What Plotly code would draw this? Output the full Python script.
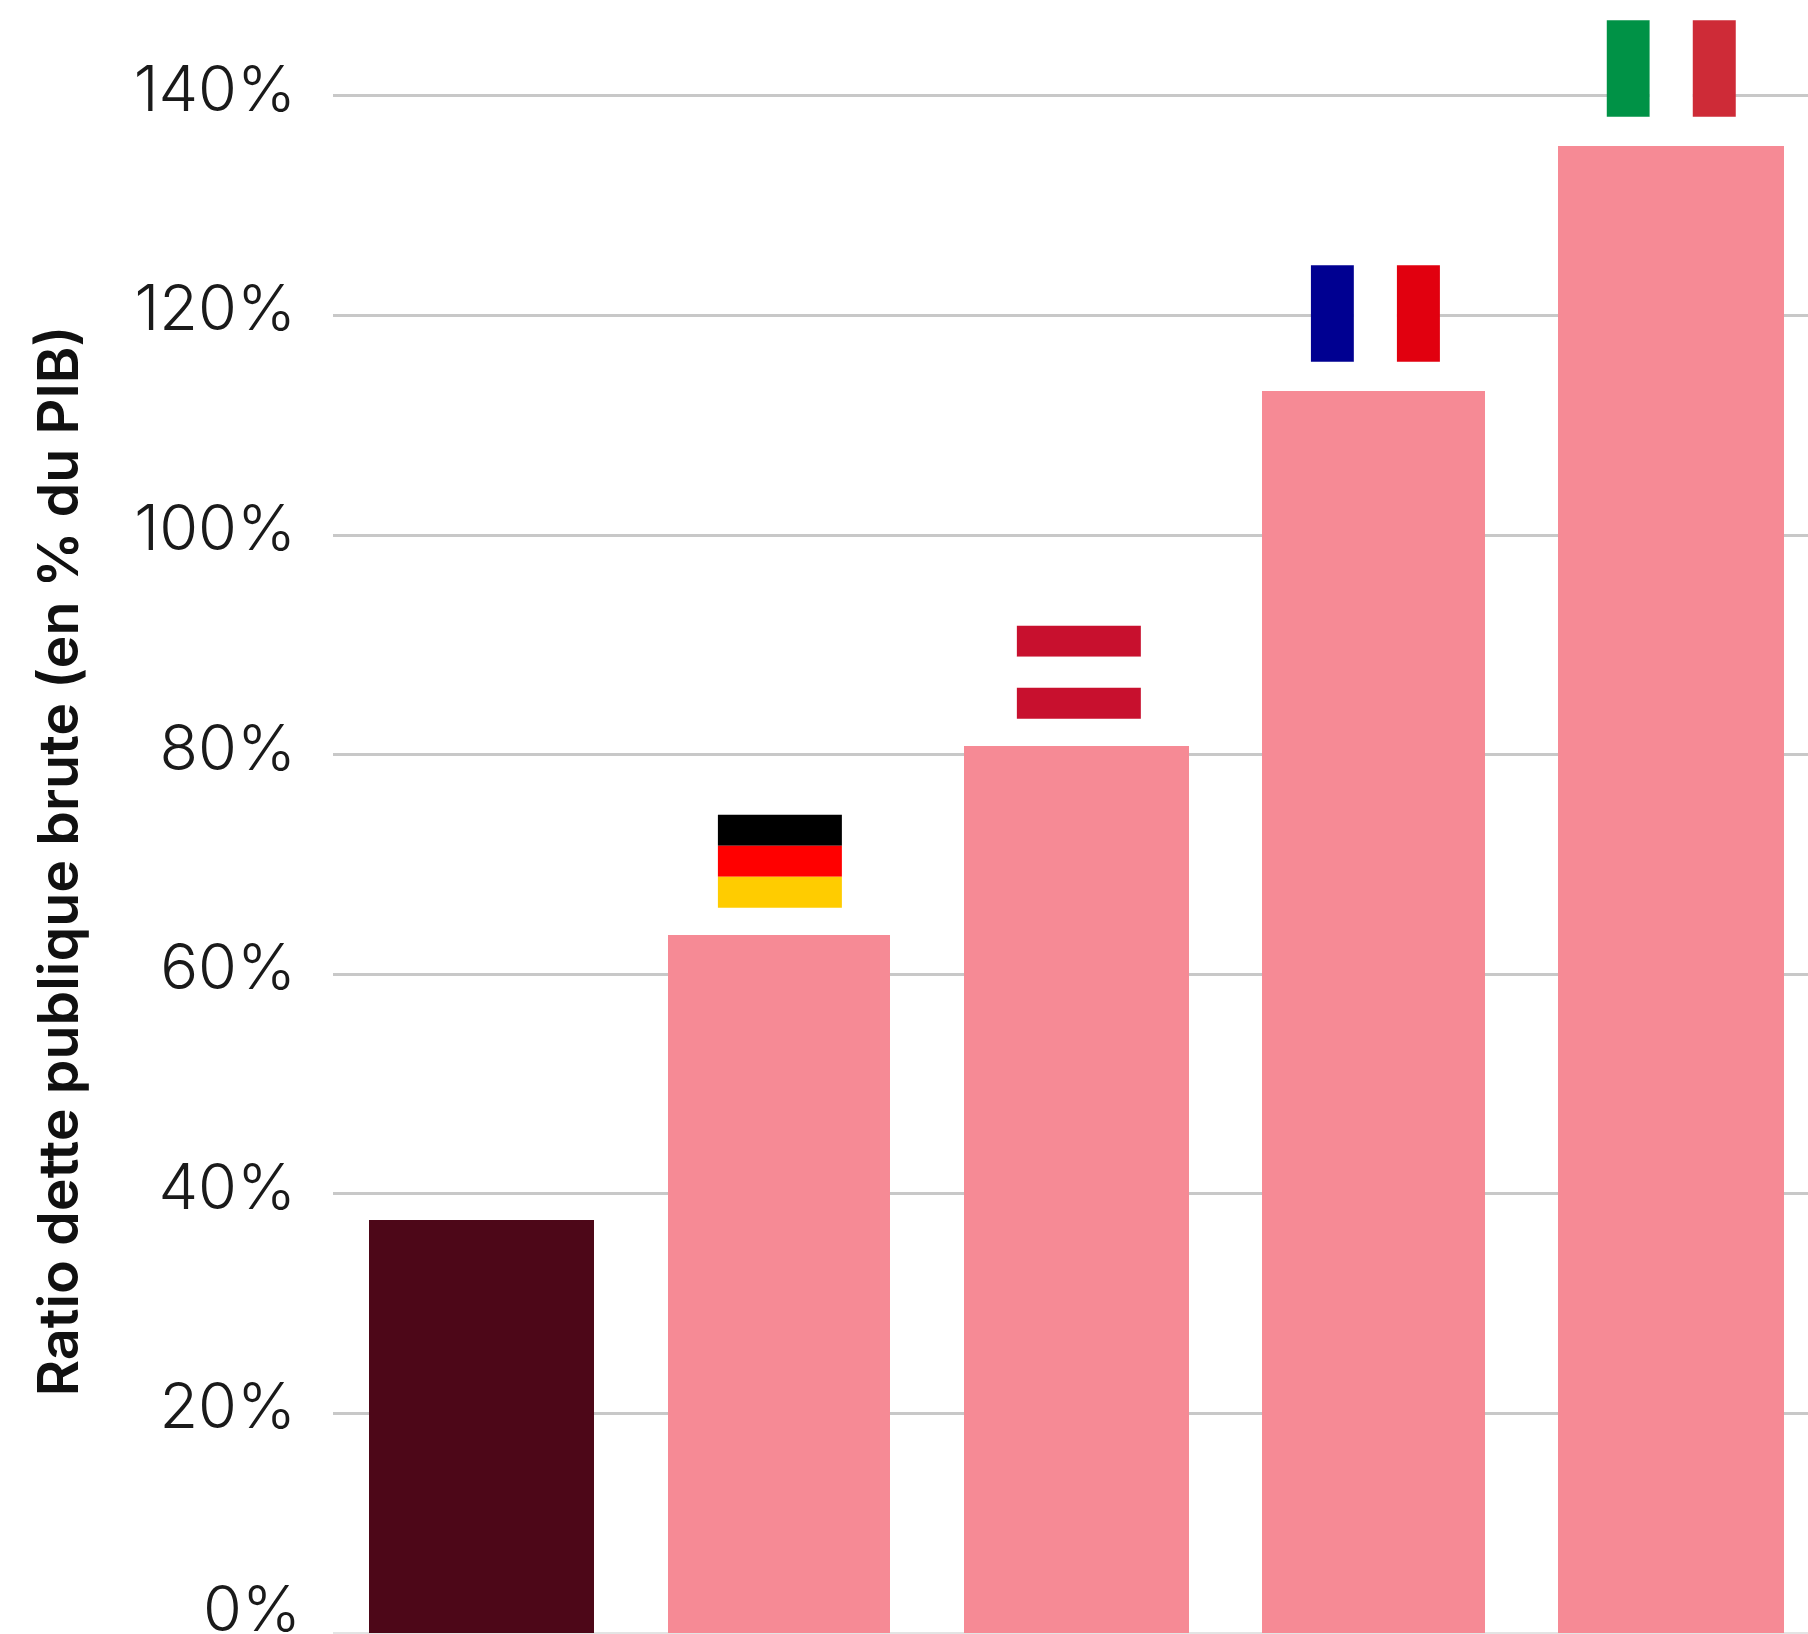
import plotly.graph_objects as go

# --- data ---
categories = ["Pays de référence", "Allemagne", "Autriche", "France", "Italie"]
debt_ratio = [37.6, 63.6, 80.8, 113.1, 135.4]
bar_colors = ["#4D0718", "#F68A95", "#F68A95", "#F68A95", "#F68A95"]
tick_values = [0, 20, 40, 60, 80, 100, 120, 140]
tick_labels = ["", "20%", "40%", "60%", "80%", "100%", "120%", "140%"]
zero_label = "0%"
axis_title = "Ratio dette publique brute (en % du PIB)"

# flag stripes: country -> (direction, stripe colours)
flags = {
    "Allemagne": ("h", ["#000000", "#FF0000", "#FFCC00"]),
    "Autriche": ("h", ["#C8102E", "#FFFFFF", "#C8102E"]),
    "France": ("v", ["#000091", "#FFFFFF", "#E1000F"]),
    "Italie": ("v", ["#009246", "#FFFFFF", "#CE2B37"]),
}

# --- layout geometry ---
W, H = 1808, 1634
PLOT_LEFT = 332.8
STEP_PX = 297.3            # px per category
UNIT_PX = 10.98            # px per percentage point
ZERO_PY = 1633             # pixel row of the 0 line
BAR_PX = [225, 222, 225, 222.5, 226]
x_range = [-0.5, -0.5 + (W - PLOT_LEFT) / STEP_PX]
y_range = [-(H - ZERO_PY) / UNIT_PX, ZERO_PY / UNIT_PX]

FONT = "Inter"
TICK_SIZE = 63
fig = go.Figure(
    go.Bar(x=categories, y=debt_ratio, width=[b / STEP_PX for b in BAR_PX],
           marker=dict(color=bar_colors, line_width=0))
)

# flags, sitting above their bars
flag_size = {"h": (124, 93, 27), "v": (129, 96.5, 29.5)}   # width, height, gap (px)
flag_dx = {"Allemagne": 1, "Autriche": 2.7, "France": 2.0, "Italie": 0.6}
shapes = []
for name, (direction, stripes) in flags.items():
    i = categories.index(name)
    v = debt_ratio[i]
    w_px, h_px, gap_px = flag_size[direction]
    x0 = i + (flag_dx[name] - w_px / 2) / STEP_PX
    y0 = v + gap_px / UNIT_PX
    fw, fh = w_px / STEP_PX, h_px / UNIT_PX
    n = len(stripes)
    for k, colour in enumerate(stripes):
        if direction == "h":
            box = dict(x0=x0, x1=x0 + fw, y0=y0 + fh * (n - k - 1) / n, y1=y0 + fh * (n - k) / n)
        else:
            box = dict(x0=x0 + fw * k / n, x1=x0 + fw * (k + 1) / n, y0=y0, y1=y0 + fh)
        shapes.append(dict(type="rect", xref="x", yref="y", layer="above",
                           fillcolor=colour, line_width=0, **box))

fig.update_layout(
    width=W, height=H, autosize=False,
    margin=dict(l=PLOT_LEFT, r=0, t=0, b=0, pad=0),
    paper_bgcolor="white", plot_bgcolor="white",
    showlegend=False, bargap=0,
    font=dict(family=FONT, color="#1A1A1A"),
    shapes=shapes,
    xaxis=dict(type="category", range=x_range, showticklabels=False, showgrid=False,
               zeroline=False, showline=False, ticks=""),
    yaxis=dict(range=y_range, tickmode="array", tickvals=tick_values, ticktext=tick_labels,
               showgrid=True, gridcolor="#C8C8C8", gridwidth=2.5,
               zeroline=True, zerolinecolor="#E4E4E4", zerolinewidth=2,
               showline=False, ticks="", ticklabelstandoff=36, ticklabelshift=-7,
               tickfont=dict(family=FONT, size=TICK_SIZE, color="#1A1A1A", weight=300)),
    annotations=[
        dict(text=axis_title, textangle=-90, xref="paper", yref="paper",
             x=-(PLOT_LEFT - 57) / (W - PLOT_LEFT), y=(H - 861) / H,
             xanchor="center", yanchor="middle", showarrow=False,
             font=dict(family=FONT, size=55.7, color="#111111", weight=600)),
        dict(text=zero_label, xref="paper", yref="y", x=-(PLOT_LEFT - 303) / (W - PLOT_LEFT), y=0,
             xanchor="right", yanchor="middle", yshift=25, showarrow=False,
             font=dict(family=FONT, size=TICK_SIZE, color="#1A1A1A", weight=300)),
    ],
)

fig.write_html("out.html", config={"displayModeBar": False},
               post_script="document.body.style.margin='0';")
